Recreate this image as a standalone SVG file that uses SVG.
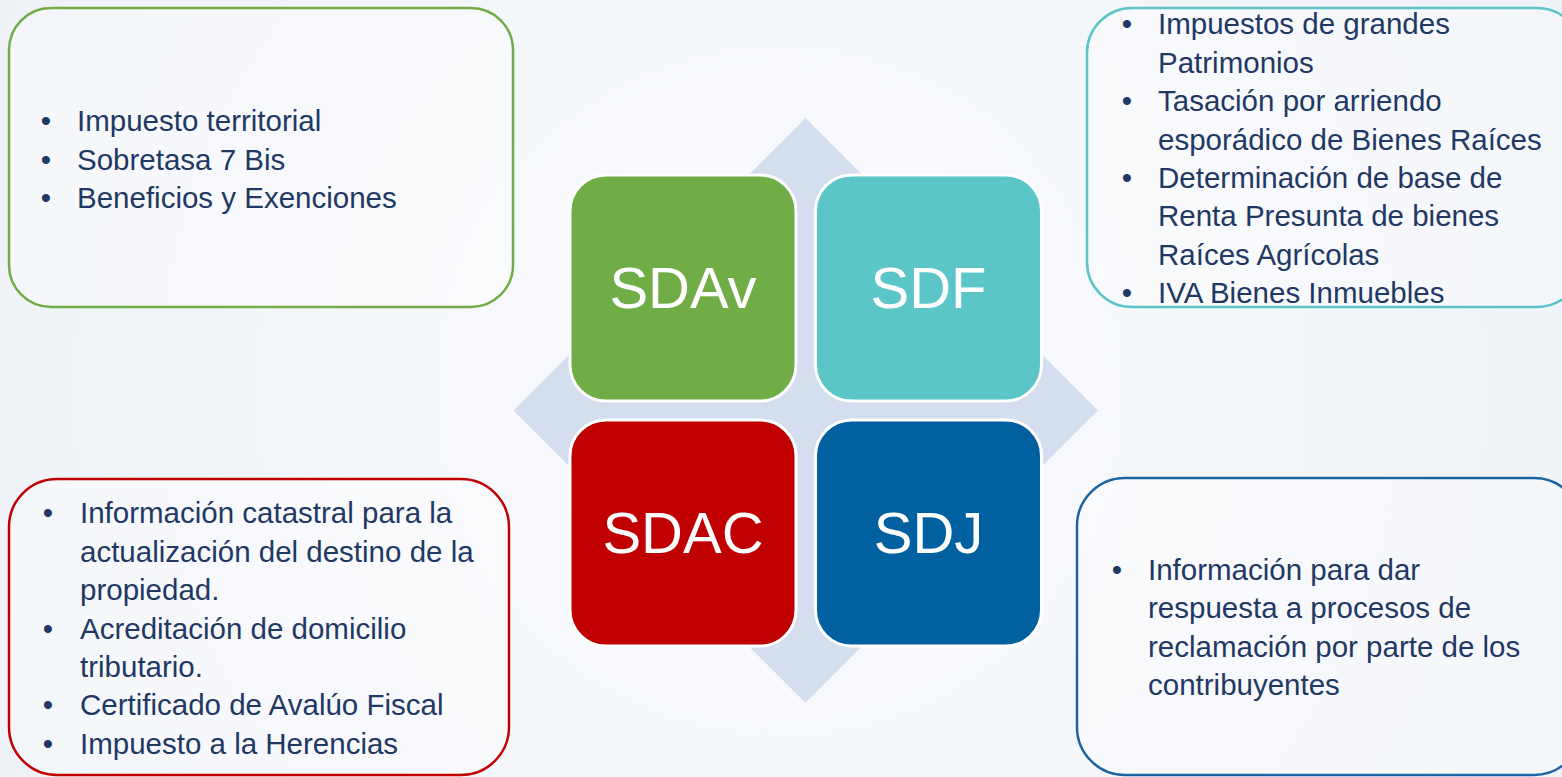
<svg xmlns="http://www.w3.org/2000/svg" width="1562" height="777" viewBox="0 0 1562 777">
<defs>
<radialGradient id="bg" cx="780" cy="390" r="900" gradientUnits="userSpaceOnUse">
<stop offset="0" stop-color="#fbfcfe"/>
<stop offset="1" stop-color="#eef2f7"/>
</radialGradient>
<style>
.box{fill:#ffffff;fill-opacity:0.35;stroke-width:2.5}
.t{font-family:"Liberation Sans",Arial,sans-serif;font-size:29.5px;fill:#1f3864}
.b{font-family:"Liberation Sans",Arial,sans-serif;font-size:29.5px;fill:#1f3864;text-anchor:middle}
.sq{stroke:#ffffff;stroke-width:3}
.lbl{font-family:"Liberation Sans",Arial,sans-serif;font-size:58px;fill:#ffffff;text-anchor:middle}
</style>
</defs>
<rect width="1562" height="777" fill="url(#bg)"/>

<g id="connectors">
<polygon points="805.5,118 1098,410.5 805.5,703 513.5,410.5" fill="#d4deef"/>
</g>

<g id="box-sdav">
<rect class="box" x="9" y="8" width="504" height="299" rx="42" stroke="#70ad47"/>
<text class="b" x="46" y="131">•</text><text class="t" x="77" y="131">Impuesto territorial</text>
<text class="b" x="46" y="169.5">•</text><text class="t" x="77" y="169.5">Sobretasa 7 Bis</text>
<text class="b" x="46" y="208">•</text><text class="t" x="77" y="208">Beneficios y Exenciones</text>
</g>

<g id="box-sdf">
<rect class="box" x="1087" y="8" width="495" height="299" rx="45" stroke="#5bc4c8"/>
<text class="b" x="1127" y="34.3">•</text><text class="t" x="1158" y="34.3">Impuestos de grandes</text>
<text class="t" x="1158" y="72.7">Patrimonios</text>
<text class="b" x="1127" y="111.1">•</text><text class="t" x="1158" y="111.1">Tasación por arriendo</text>
<text class="t" x="1158" y="149.5">esporádico de Bienes Raíces</text>
<text class="b" x="1127" y="187.9">•</text><text class="t" x="1158" y="187.9">Determinación de base de</text>
<text class="t" x="1158" y="226.3">Renta Presunta de bienes</text>
<text class="t" x="1158" y="264.7">Raíces Agrícolas</text>
<text class="b" x="1127" y="303.1">•</text><text class="t" x="1158" y="303.1">IVA Bienes Inmuebles</text>
</g>

<g id="box-sdac">
<rect class="box" x="9" y="479" width="500" height="296" rx="48" stroke="#c00000"/>
<text class="b" x="48" y="523.3">•</text><text class="t" x="80" y="523.3">Información catastral para la</text>
<text class="t" x="80" y="561.7">actualización del destino de la</text>
<text class="t" x="80" y="600.1">propiedad.</text>
<text class="b" x="48" y="638.5">•</text><text class="t" x="80" y="638.5">Acreditación de domicilio</text>
<text class="t" x="80" y="676.9">tributario.</text>
<text class="b" x="48" y="715.3">•</text><text class="t" x="80" y="715.3">Certificado de Avalúo Fiscal</text>
<text class="b" x="48" y="753.7">•</text><text class="t" x="80" y="753.7">Impuesto a la Herencias</text>
</g>

<g id="box-sdj">
<rect class="box" x="1077" y="478" width="505" height="297" rx="48" stroke="#1c63a2"/>
<text class="b" x="1117" y="580">•</text><text class="t" x="1148" y="580">Información para dar</text>
<text class="t" x="1148" y="618.4">respuesta a procesos de</text>
<text class="t" x="1148" y="656.8">reclamación por parte de los</text>
<text class="t" x="1148" y="695.2">contribuyentes</text>
</g>

<g id="node-sdav">
<rect class="sq" x="570" y="175" width="226" height="226" rx="36" fill="#70ad47"/>
<text class="lbl" x="683" y="308">SDAv</text>
</g>
<g id="node-sdf">
<rect class="sq" x="815.5" y="175" width="226" height="226" rx="36" fill="#5bc5c8"/>
<text class="lbl" x="928.5" y="308">SDF</text>
</g>
<g id="node-sdac">
<rect class="sq" x="570" y="420" width="226" height="226" rx="36" fill="#c00000"/>
<text class="lbl" x="683" y="553">SDAC</text>
</g>
<g id="node-sdj">
<rect class="sq" x="815.5" y="420" width="226" height="226" rx="36" fill="#0060a0"/>
<text class="lbl" x="928.5" y="553">SDJ</text>
</g>
</svg>
